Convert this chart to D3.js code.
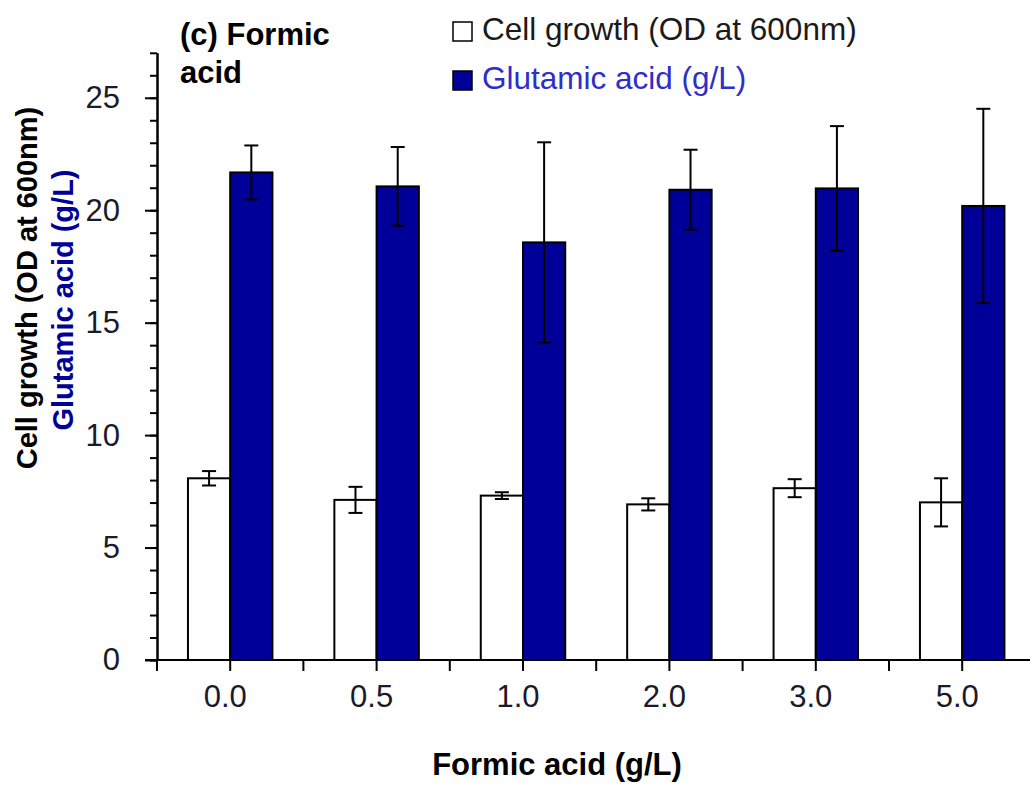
<!DOCTYPE html>
<html>
<head>
<meta charset="utf-8">
<script src="https://cdn.jsdelivr.net/npm/d3@7"></script>
<style>
  body { margin: 0; background: #fff; }
  svg { display: block; font-family: "Liberation Sans", Arial, sans-serif; }
</style>
</head>
<body>
<svg id="chart" width="1030" height="785"></svg>
<script>
const doses = ["0.0", "0.5", "1.0", "2.0", "3.0", "5.0"];
const cellGrowth = [8.08, 7.12, 7.31, 6.92, 7.64, 7.01];
const cellGrowthErr = [0.32, 0.58, 0.15, 0.27, 0.40, 1.07];
const glutamic = [21.68, 21.06, 18.57, 20.91, 20.97, 20.19];
const glutamicErr = [1.20, 1.75, 4.45, 1.78, 2.77, 4.32];
const majorTicks = [0, 5, 10, 15, 20, 25];

const seriesKeys = ["cell", "glu"];
const seriesFill = { cell: "#ffffff", glu: "#000099" };

const rows = doses.map((d, i) => ({
    dose: d,
    values: [
        { key: "cell", value: cellGrowth[i], err: cellGrowthErr[i] },
        { key: "glu", value: glutamic[i], err: glutamicErr[i] }
    ]
}));

const svg = d3.select("#chart");
const plotLeft = 157, plotRight = 1035.4, plotTop = 52.8, plotBottom = 660;
const pad = 0.423;

const x0 = d3.scaleBand()
    .domain(doses)
    .range([plotLeft, plotRight])
    .paddingInner(pad)
    .paddingOuter(pad / 2);

const x1 = d3.scaleBand()
    .domain(seriesKeys)
    .range([0, x0.bandwidth()]);

const y = d3.scaleLinear()
    .domain([0, 27])
    .range([plotBottom, plotTop]);

// bars
const groups = svg.append("g").selectAll("g")
    .data(rows)
    .join("g")
    .attr("transform", d => `translate(${x0(d.dose)},0)`);

groups.selectAll("rect")
    .data(d => d.values)
    .join("rect")
    .attr("x", d => x1(d.key))
    .attr("y", d => y(d.value))
    .attr("width", x1.bandwidth())
    .attr("height", d => y(0) - y(d.value))
    .attr("fill", d => seriesFill[d.key])
    .attr("stroke", "#000")
    .attr("stroke-width", 2);

// error bars
const cap = 7;
const eb = groups.selectAll("g.err")
    .data(d => d.values)
    .join("g")
    .attr("class", "err")
    .attr("stroke", "#000")
    .attr("stroke-width", 2);

eb.append("line")
    .attr("x1", d => x1(d.key) + x1.bandwidth() / 2)
    .attr("x2", d => x1(d.key) + x1.bandwidth() / 2)
    .attr("y1", d => y(d.value + d.err))
    .attr("y2", d => y(d.value - d.err));
eb.append("line")
    .attr("x1", d => x1(d.key) + x1.bandwidth() / 2 - cap)
    .attr("x2", d => x1(d.key) + x1.bandwidth() / 2 + cap)
    .attr("y1", d => y(d.value + d.err))
    .attr("y2", d => y(d.value + d.err));
eb.append("line")
    .attr("x1", d => x1(d.key) + x1.bandwidth() / 2 - cap)
    .attr("x2", d => x1(d.key) + x1.bandwidth() / 2 + cap)
    .attr("y1", d => y(d.value - d.err))
    .attr("y2", d => y(d.value - d.err));

// y axis: minor ticks then major ticks with labels
svg.append("g")
    .attr("transform", `translate(${plotLeft},0)`)
    .call(d3.axisLeft(y).tickValues(d3.range(0, 28)).tickSize(7).tickSizeOuter(0).tickFormat(""))
    .call(g => g.selectAll("line, path").attr("stroke", "#000").attr("stroke-width", 2));

svg.append("g")
    .attr("transform", `translate(${plotLeft},0)`)
    .call(d3.axisLeft(y).tickValues(majorTicks).tickSize(12).tickSizeOuter(0).tickPadding(25))
    .call(g => g.selectAll("line, path").attr("stroke", "#000").attr("stroke-width", 2))
    .call(g => g.selectAll("text")
        .attr("font-size", "31px")
        .attr("fill", "#1a1a2a")
        .attr("font-family", "Liberation Sans, Arial, sans-serif"));

// x axis
const xAxis = svg.append("g").attr("stroke", "#000").attr("stroke-width", 2);
xAxis.append("line")
    .attr("x1", plotLeft - 12).attr("x2", plotRight)
    .attr("y1", y(0)).attr("y2", y(0));

const halfStep = x0.step() / 2;
const tickXs = d3.range(0, doses.length * 2 + 1).map(i => x0(doses[0]) - x0.step() * pad / 2 + i * halfStep);
xAxis.selectAll("line.tick")
    .data(tickXs)
    .join("line")
    .attr("class", "tick")
    .attr("x1", d => d).attr("x2", d => d)
    .attr("y1", y(0)).attr("y2", y(0) + 11);

svg.append("g").selectAll("text")
    .data(doses)
    .join("text")
    .attr("x", d => x0(d) + x0.bandwidth() / 2 - 5)
    .attr("y", y(0) + 47)
    .attr("text-anchor", "middle")
    .attr("font-size", "31px")
    .attr("fill", "#1a1a2a")
    .text(d => d);

// axis titles
svg.append("text")
    .attr("x", 557)
    .attr("y", 775)
    .attr("text-anchor", "middle")
    .attr("font-size", "31px")
    .attr("font-weight", "bold")
    .attr("fill", "#000")
    .text("Formic acid (g/L)");

svg.append("text")
    .attr("transform", "translate(37,288) rotate(-90)")
    .attr("text-anchor", "middle")
    .attr("font-size", "29px")
    .attr("font-weight", "bold")
    .attr("fill", "#000")
    .text("Cell growth (OD at 600nm)");

svg.append("text")
    .attr("transform", "translate(73,300) rotate(-90)")
    .attr("text-anchor", "middle")
    .attr("font-size", "29px")
    .attr("font-weight", "bold")
    .attr("fill", "#000099")
    .text("Glutamic acid (g/L)");

// panel title
const title = svg.append("text")
    .attr("font-size", "31px")
    .attr("font-weight", "bold")
    .attr("fill", "#000");
title.append("tspan").attr("x", 180).attr("y", 45).text("(c) Formic");
title.append("tspan").attr("x", 180).attr("y", 83).text("acid");

// legend
const legendItems = [
    { key: "cell", label: "Cell growth (OD at 600nm)", color: "#1a1a1a" },
    { key: "glu", label: "Glutamic acid (g/L)", color: "#2e2ec8" }
];
const legend = svg.append("g").selectAll("g")
    .data(legendItems)
    .join("g")
    .attr("transform", (d, i) => `translate(453,${22 + i * 49})`);
legend.append("rect")
    .attr("width", 19).attr("height", 19)
    .attr("fill", d => seriesFill[d.key])
    .attr("stroke", "#000")
    .attr("stroke-width", 1.5);
legend.append("text")
    .attr("x", 29)
    .attr("y", 18)
    .attr("font-size", "31.5px")
    .attr("fill", d => d.color)
    .text(d => d.label);
</script>
</body>
</html>
